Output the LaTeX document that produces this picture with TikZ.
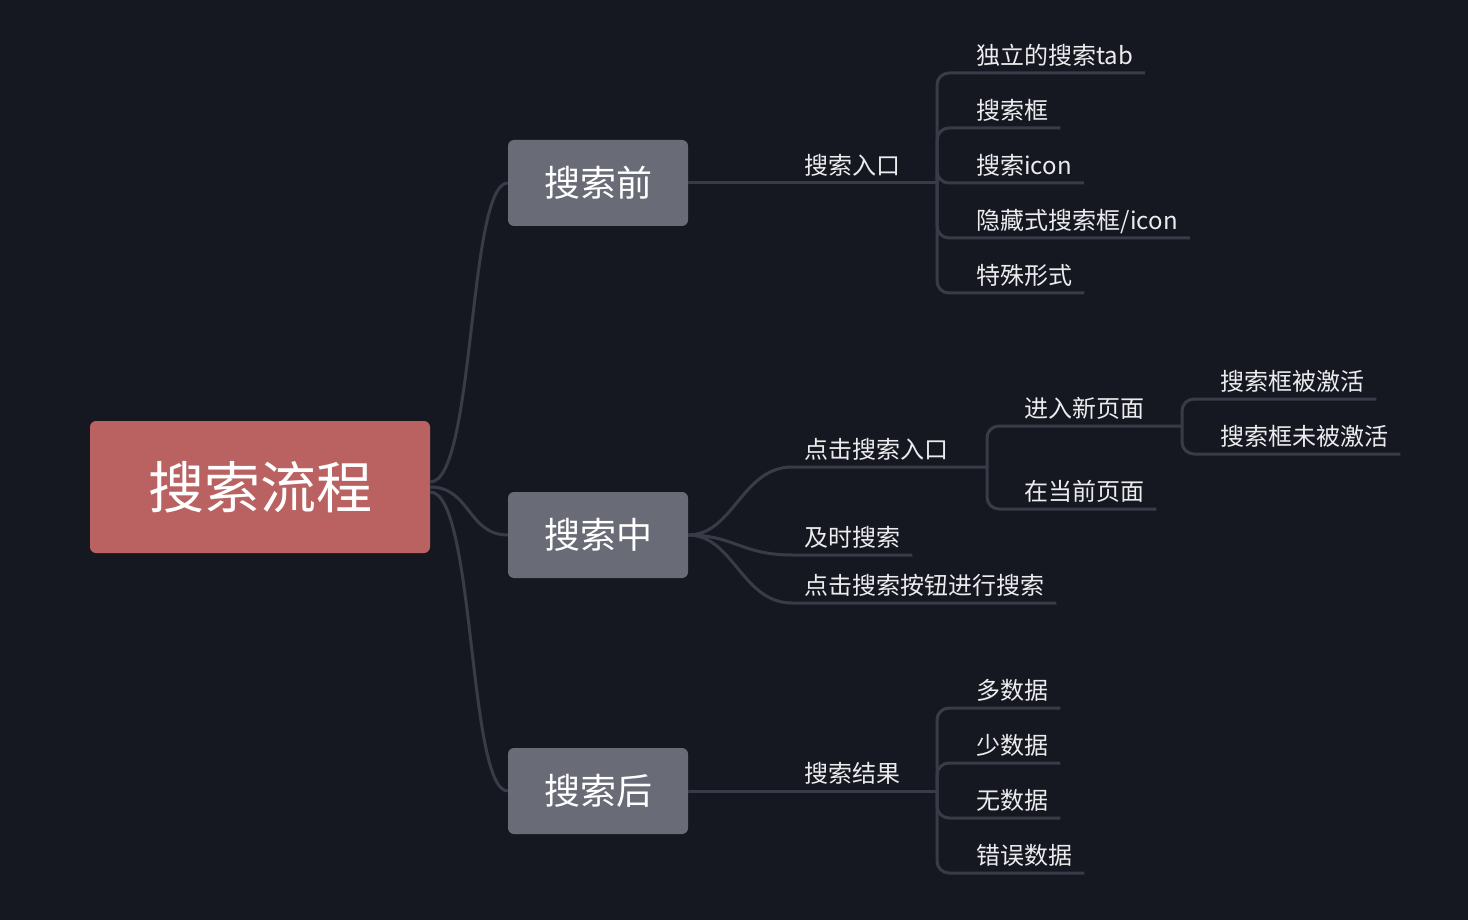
\documentclass[tikz,border=0pt]{standalone}
\usepackage{fontspec}
\setmainfont{Noto Sans CJK SC}
\definecolor{bgdark}{RGB}{22,24,33}
\definecolor{rootred}{RGB}{185,98,97}
\definecolor{topicgrey}{RGB}{105,108,118}
\definecolor{branchline}{RGB}{57,60,72}
\definecolor{labelwhite}{RGB}{236,236,238}
\usetikzlibrary{positioning,calc}
\tikzset{
  rootbox/.style={fill=rootred, rounded corners=6pt, minimum width=340pt, minimum height=132pt,
    inner sep=0pt, text=white, font=\fontsize{56}{60}\selectfont},
  topicbox/.style={fill=topicgrey, rounded corners=6pt, minimum width=180pt, minimum height=86pt,
    inner sep=0pt, text=white, font=\fontsize{36}{40}\selectfont},
  leaf/.style={anchor=south west, inner xsep=12pt, inner ysep=0pt, text depth=8pt,
    text=labelwhite, font=\fontsize{24}{28}\selectfont},
  link/.style={draw=branchline, line width=3pt},
  elbow/.style={link, rounded corners=12pt},
}

\begin{document}
\begin{tikzpicture}[x=1pt,y=-1pt]
  \fill[bgdark] (0,0) rectangle (1468,920);
  \useasboundingbox (0,0) rectangle (1468,920);

  \node[rootbox] (root) at (260,487) {搜索流程};
  \node[topicbox] (qian) at (598,183) {搜索前};
  \node[topicbox] (zhong) at (598,535) {搜索中};
  \node[topicbox] (hou) at (598,791) {搜索后};

  \node[leaf] (rukou) at (792,183) {搜索入口};
  \coordinate (jq) at (937,183);
  \node[leaf] (tab) at (964,73) {独立的搜索tab};
  \node[leaf] (kuang) at (964,128) {搜索框};
  \node[leaf] (icon) at (964,183) {搜索icon};
  \node[leaf] (yincang) at (964,238) {隐藏式搜索框/icon};
  \node[leaf] (teshu) at (964,293) {特殊形式};

  \node[leaf] (dianji) at (792,467) {点击搜索入口};
  \coordinate (jz) at (987,467);
  \node[leaf] (xinye) at (1012,426) {进入新页面};
  \coordinate (jx) at (1182,426);
  \node[leaf] (jihuo) at (1208,399) {搜索框被激活};
  \node[leaf] (weijihuo) at (1208,454) {搜索框未被激活};
  \node[leaf] (dangqian) at (1012,509) {在当前页面};
  \node[leaf] (jishi) at (792,555) {及时搜索};
  \node[leaf] (anniu) at (792,603) {点击搜索按钮进行搜索};

  \node[leaf] (jieguo) at (792,791) {搜索结果};
  \coordinate (jh) at (937,791);
  \node[leaf] (duo) at (964,708) {多数据};
  \node[leaf] (shao) at (964,763) {少数据};
  \node[leaf] (wu) at (964,818) {无数据};
  \node[leaf] (cuowu) at (964,873) {错误数据};

  \draw[link] ([yshift=5pt]root.east) .. controls +(45,0) and +(-40,0) .. (qian.west);
  \draw[link] (root.east) .. controls +(40,0) and +(-40,0) .. (zhong.west);
  \draw[link] ([yshift=-5pt]root.east) .. controls +(45,0) and +(-40,0) .. (hou.west);

  \draw[link] (qian.east) -- (rukou.south west) -- (rukou.south east) -- (jq);
  \foreach \c in {tab,kuang,icon,yincang,teshu}
    \draw[elbow] (jq) |- (\c.south east);

  \draw[link] (zhong.east) .. controls +(45,0) and +(-50,0) .. (dianji.south west) -- (dianji.south east) -- (jz);
  \draw[elbow] (jz) |- (xinye.south east) -- (jx);
  \draw[elbow] (jz) |- (dangqian.south east);
  \draw[elbow] (jx) |- (jihuo.south east);
  \draw[elbow] (jx) |- (weijihuo.south east);
  \draw[link] (zhong.east) .. controls +(45,0) and +(-50,0) .. (jishi.south west) -- (jishi.south east);
  \draw[link] (zhong.east) .. controls +(45,0) and +(-50,0) .. (anniu.south west) -- (anniu.south east);

  \draw[link] (hou.east) -- (jieguo.south west) -- (jieguo.south east) -- (jh);
  \foreach \c in {duo,shao,wu,cuowu}
    \draw[elbow] (jh) |- (\c.south east);
\end{tikzpicture}
\end{document}
